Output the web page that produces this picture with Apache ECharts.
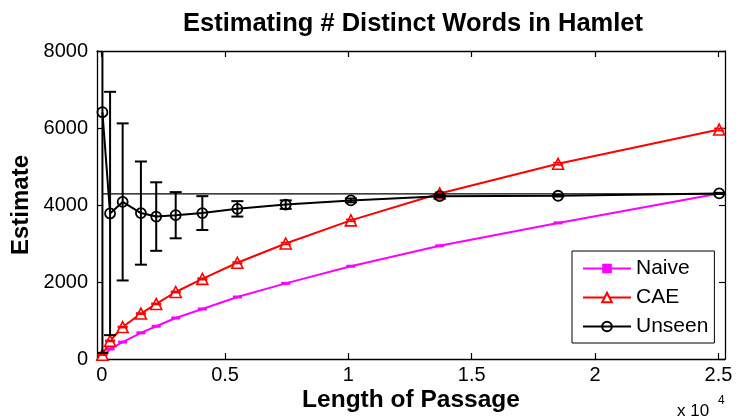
<!DOCTYPE html>
<html>
<head>
<meta charset="utf-8">
<script src="https://cdn.jsdelivr.net/npm/echarts@6/dist/echarts.min.js"></script>
<style>html,body{margin:0;padding:0;background:#fff;}#c{width:738px;height:418px;}</style>
</head>
<body>
<div id="c"></div>
<script>
// ---- data ----
const TITLE = 'Estimating # Distinct Words in Hamlet';
const X_NAME = 'Length of Passage';
const Y_NAME = 'Estimate';
const SERIES_NAMES = ['Naive', 'CAE', 'Unseen'];
const LENGTHS = [30, 340, 850, 1590, 2210, 3000, 4080, 5500, 7460, 10100, 13700, 18500, 25030];
const NAIVE   = [40, 260, 440, 680, 850, 1065, 1300, 1610, 1965, 2410, 2940, 3535, 4300];
const CAE     = [110, 470, 830, 1180, 1430, 1740, 2080, 2500, 3000, 3600, 4300, 5070, 5960];
const UNSEEN  = [6410, 3780, 4080, 3790, 3700, 3735, 3790, 3900, 4010, 4120, 4230, 4240, 4300];
const UNSEEN_STD = [6250, 3160, 2040, 1340, 890, 600, 440, 200, 110, 50, 30, 20, 15];
const CAE_STD = [10, 15, 15, 15, 15, 15, 20, 20, 25, 25, 30, 30, 30];
const TRUE_DISTINCT = 4290;
const X_TICKS = [0, 5000, 10000, 15000, 20000, 25000];
const X_MIN = -190, X_MAX = 25266;
const Y_MIN = 0, Y_MAX = 8000, Y_STEP = 2000;

const FONT = '"Liberation Sans", Arial, Helvetica, sans-serif';

function errData(xs, ys, sd) {
  return xs.map((x, i) => [x, ys[i] - sd[i], ys[i] + sd[i]]);
}
function makeErr(color, hw, lw) {
  return function (params, api) {
    const x = api.value(0), lo = api.value(1), hi = api.value(2);
    const a = api.coord([x, lo]), b = api.coord([x, hi]);
    const st = { stroke: color, lineWidth: lw };
    return {
      type: 'group',
      children: [
        { type: 'line', shape: { x1: a[0], y1: a[1], x2: b[0], y2: b[1] }, style: st },
        { type: 'line', shape: { x1: a[0] - hw, y1: a[1], x2: a[0] + hw, y2: a[1] }, style: st },
        { type: 'line', shape: { x1: b[0] - hw, y1: b[1], x2: b[0] + hw, y2: b[1] }, style: st }
      ]
    };
  };
}
const pairs = (xs, ys) => xs.map((x, i) => [x, ys[i]]);

const chart = echarts.init(document.getElementById('c'), null, { renderer: 'canvas' });
const axisLineStyle = { color: '#000', width: 1.3 };
const tickStyle = { color: '#000', width: 1.2 };
const option = {
  animation: false,
  backgroundColor: '#fff',
  textStyle: { fontFamily: FONT },
  title: {
    text: TITLE, left: 408, top: 6, textAlign: 'center',
    textStyle: { fontFamily: FONT, fontSize: 25.5, fontWeight: 'bold', color: '#000' }
  },
  grid: { left: 97, right: 13, top: 51, bottom: 59, show: false, containLabel: false, outerBoundsMode: 'none' },
  legend: {
    data: SERIES_NAMES,
    orient: 'vertical', left: 572, top: 251,
    padding: [7, 6, 6, 10], itemGap: 8, itemWidth: 48, itemHeight: 12,
    backgroundColor: '#fff', borderColor: '#000', borderWidth: 1, borderRadius: 0,
    textStyle: { fontFamily: FONT, fontSize: 21, color: '#000', lineHeight: 21 }
  },
  xAxis: [{
    type: 'value', position: 'bottom', min: X_MIN, max: X_MAX,
    name: X_NAME, nameLocation: 'middle', nameGap: 29, nameMoveOverlap: false,
    nameTextStyle: { fontFamily: FONT, fontSize: 24.5, fontWeight: 'bold', color: '#000' },
    axisLine: { show: true, onZero: false, lineStyle: axisLineStyle },
    axisTick: { show: true, inside: true, length: 6, customValues: X_TICKS, lineStyle: tickStyle },
    axisLabel: { show: true, customValues: X_TICKS, margin: 6, fontFamily: FONT, fontSize: 20, color: '#000',
      formatter: v => String(v / 10000) },
    splitLine: { show: false }
  }, {
    type: 'value', position: 'top', min: X_MIN, max: X_MAX,
    axisLine: { show: true, onZero: false, lineStyle: axisLineStyle },
    axisTick: { show: true, inside: true, length: 6, customValues: X_TICKS, lineStyle: tickStyle },
    axisLabel: { show: false },
    splitLine: { show: false }
  }],
  yAxis: [{
    type: 'value', position: 'left', min: Y_MIN, max: Y_MAX, interval: Y_STEP,
    name: Y_NAME, nameLocation: 'middle', nameGap: 64, nameRotate: 90, nameMoveOverlap: false,
    nameTextStyle: { fontFamily: FONT, fontSize: 24, fontWeight: 'bold', color: '#000' },
    axisLine: { show: true, onZero: false, lineStyle: axisLineStyle },
    axisTick: { show: true, inside: true, length: 6, lineStyle: tickStyle },
    axisLabel: { margin: 9, fontFamily: FONT, fontSize: 20, color: '#000', formatter: v => String(v) },
    splitLine: { show: false }
  }, {
    type: 'value', position: 'right', min: Y_MIN, max: Y_MAX, interval: Y_STEP,
    axisLine: { show: true, onZero: false, lineStyle: axisLineStyle },
    axisTick: { show: true, inside: true, length: 6, lineStyle: tickStyle },
    axisLabel: { show: false },
    splitLine: { show: false }
  }],
  graphic: [
    { type: 'text', left: 677, top: 403, style: { text: 'x 10', font: '17px ' + FONT, fill: '#000' } },
    { type: 'text', left: 718, top: 395, style: { text: '4', font: '12px ' + FONT, fill: '#000' } }
  ],
  series: [
    {
      name: 'Naive', type: 'line', data: pairs(LENGTHS, NAIVE),
      symbol: 'rect', symbolSize: [9, 3], showSymbol: true,
      lineStyle: { color: '#ff00ff', width: 2 }, itemStyle: { color: '#ff00ff' },
      z: 3
    },
    {
      name: 'CAE', type: 'line', data: pairs(LENGTHS, CAE),
      symbol: 'triangle', symbolSize: 11,
      lineStyle: { color: '#ff0000', width: 2 },
      itemStyle: { color: '#fff', borderColor: '#ff0000', borderWidth: 1.6 },
      z: 4
    },
    {
      name: 'CAE-err', type: 'custom', data: errData(LENGTHS, CAE, CAE_STD),
      renderItem: makeErr('#ff0000', 5, 1.6), clip: true, z: 5, silent: true
    },
    {
      name: 'Truth', type: 'line', data: [[LENGTHS[0], TRUE_DISTINCT], [X_MAX, TRUE_DISTINCT]],
      symbol: 'none', lineStyle: { color: '#000', width: 1.2 }, z: 5, silent: true
    },
    {
      name: 'Unseen', type: 'line', data: pairs(LENGTHS, UNSEEN),
      symbol: 'circle', symbolSize: 10,
      lineStyle: { color: '#000', width: 2 },
      itemStyle: { color: 'rgba(255,255,255,0)', borderColor: '#000', borderWidth: 1.8 },
      z: 6
    },
    {
      name: 'Unseen-err', type: 'custom', data: errData(LENGTHS, UNSEEN, UNSEEN_STD),
      renderItem: makeErr('#000', 6, 2), clip: true, z: 7, silent: true
    }
  ]
};
chart.setOption(option);
</script>
</body>
</html>
